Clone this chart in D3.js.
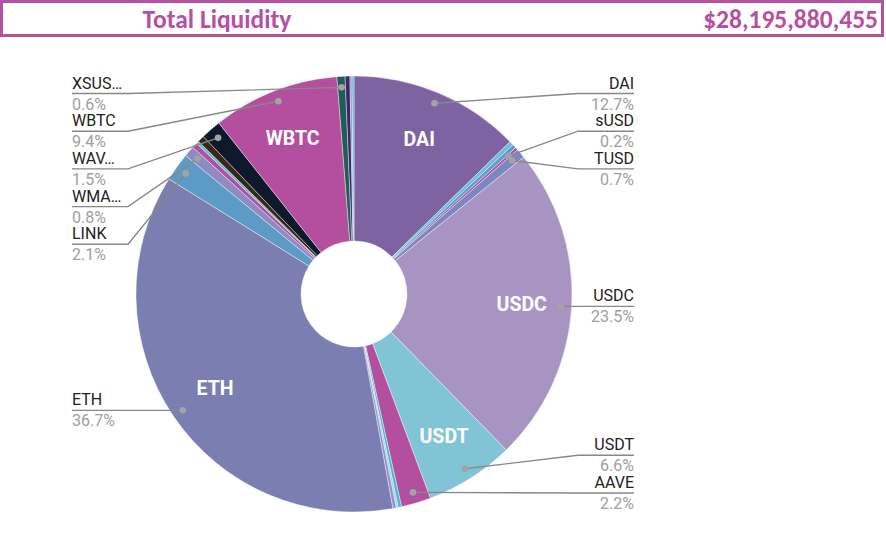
<!DOCTYPE html>
<html>
<head>
<meta charset="utf-8">
<script src="https://cdnjs.cloudflare.com/ajax/libs/d3/7.8.5/d3.min.js"></script>
<style>
  body { margin: 0; background: #fff; }
  svg { display: block; }
</style>
</head>
<body>
<script>
// header values
var titleText = 'Total Liquidity';
var totalLiquidity = 28195880455;

// slices, clockwise from 12 o'clock (share of total liquidity, %)
var names = ['DAI', 'GUSD', 'BUSD', 'sUSD', 'TUSD', 'USDC', 'USDT', 'AAVE',
    'FEI', 'UST', 'LUSD', 'ETH', 'LINK', 'WMATIC', 'CRV', 'BAL', 'MKR',
    'WAVAX', 'WBTC', 'XSUSHI', 'YFI', 'UNI', 'SNX'];
var shares = [12.7, 0.3, 0.3, 0.2, 0.7, 23.5, 6.6, 2.2,
    0.25, 0.15, 0.25, 36.7, 2.1, 0.8, 0.4, 0.2, 0.5,
    1.5, 9.4, 0.6, 0.35, 0.15, 0.15];
var colors = ['#7e63a3', '#72b9dc', '#5b9fcb', '#b44fa0', '#7c86bf', '#a794c2', '#80c4d6', '#b44fa0',
    '#3fc0cf', '#c2bce2', '#8d95cb', '#7a7eb0', '#5c9bc5', '#8e8bc3', '#b44fa0', '#55c3d4', '#3a2519',
    '#0c1a2c', '#b44fa0', '#1f5d5a', '#3b2763', '#8c8fcc', '#6fb0d8'];

// which slices get an outside label, and the text shown for them
var labeledNames = ['DAI', 'sUSD', 'TUSD', 'USDC', 'USDT', 'AAVE', 'ETH', 'LINK', 'WMATIC', 'WAVAX', 'WBTC', 'XSUSHI'];
var shownNames = ['DAI', 'sUSD', 'TUSD', 'USDC', 'USDT', 'AAVE', 'ETH', 'LINK', 'WMA\u2026', 'WAV\u2026', 'WBTC', 'XSUS\u2026'];

var width = 886,
    height = 540;

var cx = 354, cy = 294,
    outerR = 218, innerR = 53;

var svg = d3.select('body')
    .append('svg')
    .attr('width', width)
    .attr('height', height);

// ---- header box
var purple = '#b7509f';
svg.append('rect')
    .attr('x', 1.5).attr('y', 1.5)
    .attr('width', 881).attr('height', 34)
    .attr('fill', '#fff')
    .attr('stroke', purple)
    .attr('stroke-width', 3);

svg.append('text')
    .attr('x', 217).attr('y', 28)
    .attr('text-anchor', 'middle')
    .attr('font-family', 'Carlito, Lato, sans-serif')
    .attr('font-weight', 'bold')
    .attr('font-size', 25.5)
    .attr('fill', purple)
    .text(titleText);

svg.append('text')
    .attr('x', 878).attr('y', 28)
    .attr('text-anchor', 'end')
    .attr('font-family', 'Carlito, Lato, sans-serif')
    .attr('font-weight', 'bold')
    .attr('font-size', 25.5)
    .attr('fill', purple)
    .text('$' + d3.format(',')(totalLiquidity));

// ---- pie
var data = names.map(function(n, i) {
    return { name: n, value: shares[i], color: colors[i] };
});
var total = d3.sum(shares);

var pie = d3.pie()
    .sort(null)
    .value(function(d) { return d.value; });

var arc = d3.arc()
    .innerRadius(innerR)
    .outerRadius(outerR);

var arcs = pie(data);

var g = svg.append('g')
    .attr('transform', 'translate(' + cx + ',' + cy + ')');

g.selectAll('path')
    .data(arcs)
    .enter().append('path')
        .attr('d', arc)
        .attr('fill', function(d) { return d.data.color; })
        .attr('stroke', '#fff')
        .attr('stroke-width', 0.4);

// labels inside the big slices
var midAngle = function(d) { return (d.startAngle + d.endAngle) / 2; };
var inside = 168;

g.selectAll('text.inner')
    .data(arcs.filter(function(d) { return d.data.value / total >= 0.05; }))
    .enter().append('text')
        .attr('class', 'inner')
        .attr('x', function(d) { return inside * Math.sin(midAngle(d)); })
        .attr('y', function(d) { return -inside * Math.cos(midAngle(d)); })
        .attr('dy', '0.36em')
        .attr('text-anchor', 'middle')
        .attr('font-family', 'Roboto, sans-serif')
        .attr('font-weight', 'bold')
        .attr('font-size', 19.5)
        .attr('fill', '#fff')
        .text(function(d) { return d.data.name; });

// ---- outside labels
var dotR = 207,
    gap = 37.7,
    topY = 93.5,
    bottomY = 493;

var labels = arcs
    .filter(function(d) { return labeledNames.indexOf(d.data.name) >= 0; })
    .map(function(d) {
        var a = midAngle(d);
        var x = cx + dotR * Math.sin(a),
            y = cy - dotR * Math.cos(a);
        return {
            name: shownNames[labeledNames.indexOf(d.data.name)],
            pct: d3.format('.1%')(d.data.value / total),
            left: a > Math.PI,
            dx: x, dy: y, ly: y
        };
    });

// push labels away from the middle, then back inside the top / bottom limits
function spread(list) {
    var up = list.filter(function(l) { return l.dy < cy; })
        .sort(function(a, b) { return b.dy - a.dy; });
    var down = list.filter(function(l) { return l.dy >= cy; })
        .sort(function(a, b) { return a.dy - b.dy; });

    up.forEach(function(l, i) {
        l.ly = i ? Math.min(l.dy, up[i - 1].ly - gap) : l.dy;
    });
    up.slice().reverse().forEach(function(l, i, arr) {
        l.ly = Math.max(l.ly, i ? arr[i - 1].ly + gap : topY);
    });

    down.forEach(function(l, i) {
        l.ly = i ? Math.max(l.dy, down[i - 1].ly + gap) : l.dy;
    });
    down.slice().reverse().forEach(function(l, i, arr) {
        l.ly = Math.min(l.ly, i ? arr[i - 1].ly - gap : bottomY);
    });
}
spread(labels.filter(function(l) { return l.left; }));
spread(labels.filter(function(l) { return !l.left; }));

var leftX = 72, rightX = 634, elbow = 56;

var lab = svg.append('g').selectAll('g')
    .data(labels)
    .enter().append('g');

lab.append('path')
    .attr('d', function(l) {
        var x0 = l.left ? leftX : rightX,
            x1 = l.left ? leftX + elbow : rightX - elbow;
        return 'M' + x0 + ',' + l.ly + 'H' + x1 + 'L' + l.dx + ',' + l.dy;
    })
    .attr('fill', 'none')
    .attr('stroke', '#888')
    .attr('stroke-width', 1.4);

lab.append('circle')
    .attr('cx', function(l) { return l.dx; })
    .attr('cy', function(l) { return l.dy; })
    .attr('r', 3.3)
    .attr('fill', '#a3a3a3');

lab.append('text')
    .attr('x', function(l) { return l.left ? leftX : rightX; })
    .attr('y', function(l) { return l.ly - 5; })
    .attr('text-anchor', function(l) { return l.left ? 'start' : 'end'; })
    .attr('font-family', 'Roboto, sans-serif')
    .attr('font-size', 16)
    .attr('fill', '#222')
    .text(function(l) { return l.name; });

lab.append('text')
    .attr('x', function(l) { return l.left ? leftX : rightX; })
    .attr('y', function(l) { return l.ly + 16; })
    .attr('text-anchor', function(l) { return l.left ? 'start' : 'end'; })
    .attr('font-family', 'Roboto, sans-serif')
    .attr('font-size', 16)
    .attr('fill', '#9e9e9e')
    .text(function(l) { return l.pct; });
</script>
</body>
</html>
